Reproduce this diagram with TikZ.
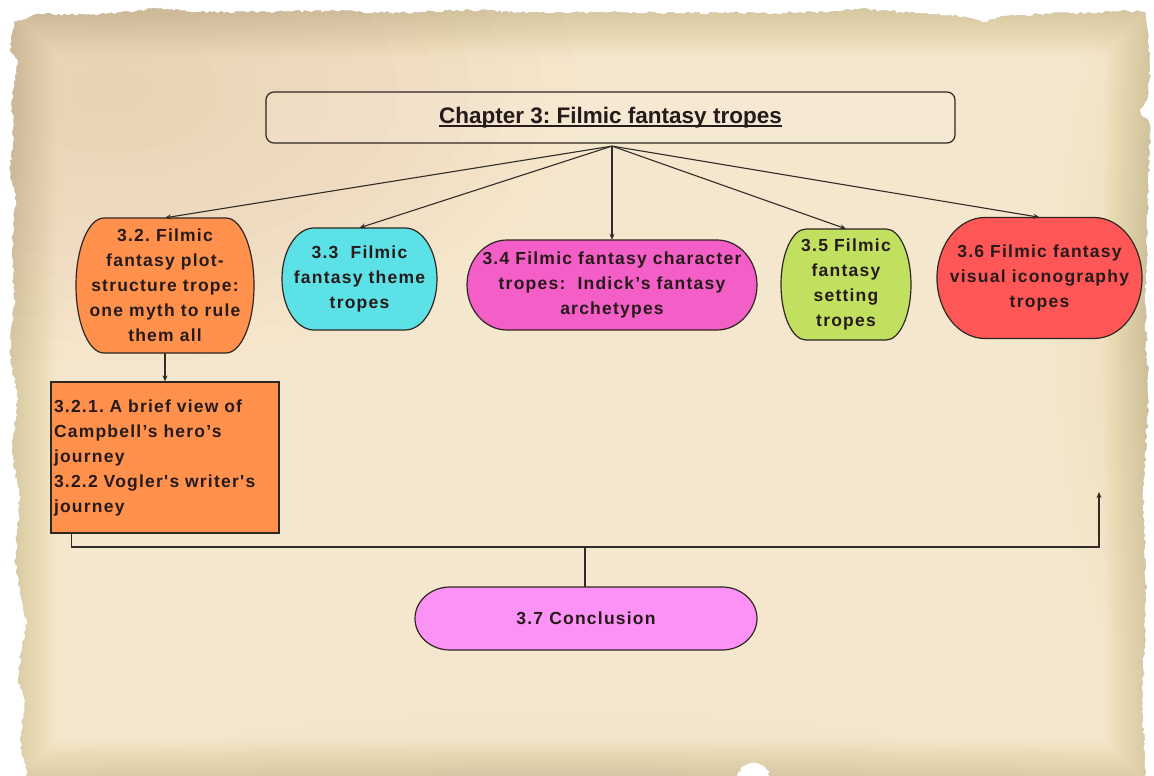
\documentclass[tikz,border=0pt]{standalone}
\usepackage{fontspec}
\setmainfont{Liberation Sans}
\newfontfamily\boxfont{Liberation Sans}[LetterSpace=7,Ligatures=TeXOff]
\usetikzlibrary{arrows.meta,decorations.pathmorphing,calc}
\frenchspacing

\definecolor{paperbase}{HTML}{F5E7CD}
\definecolor{paperedge}{HTML}{C99A5E}
\definecolor{paperstain}{HTML}{D6B27F}
\definecolor{edgecol}{HTML}{2E2620}
\definecolor{linkcol}{HTML}{302C28}
\definecolor{textcol}{HTML}{261B1A}
\definecolor{orangefill}{HTML}{FF914D}
\definecolor{cyanfill}{HTML}{5CE1E6}
\definecolor{pinkfill}{HTML}{F35EC7}
\definecolor{greenfill}{HTML}{C2E060}
\definecolor{redfill}{HTML}{FF5757}
\definecolor{violetfill}{HTML}{FC92F6}

% thick underline for the heading
\newcommand\thickul[1]{\setbox0\hbox{#1}\rlap{\rule[-3.2pt]{\wd0}{1.6pt}}\box0}

% outline of the torn sheet
\def\paperpts{(14,-22) -- (40,-14) -- (90,-15) -- (130,-12) -- (160,-8) -- (200,-12)
    -- (260,-12) -- (330,-11) -- (400,-13) -- (470,-10) -- (540,-13)
    -- (600,-12) -- (680,-13) -- (760,-13) -- (830,-12) -- (860,-9)
    -- (900,-12) -- (950,-15) -- (985,-22) -- (1000,-17) -- (1040,-14)
    -- (1090,-13) -- (1120,-11) -- (1145,-12) -- (1148,-30) -- (1150,-70)
    -- (1147,-100) -- (1140,-112) -- (1150,-125) -- (1148,-200)
    -- (1145,-300) -- (1148,-400) -- (1143,-500) -- (1146,-600)
    -- (1142,-700) -- (1145,-780) -- (772,-780) -- (768,-770) -- (760,-764)
    -- (750,-763) -- (741,-767) -- (736,-780) -- (28,-780) -- (20,-740)
    -- (25,-700) -- (18,-680) -- (22,-650) -- (27,-620) -- (22,-600)
    -- (15,-560) -- (20,-500) -- (12,-450) -- (18,-400) -- (10,-350)
    -- (15,-300) -- (12,-250) -- (16,-200) -- (10,-170) -- (14,-140)
    -- (12,-100) -- (18,-60) -- (10,-50) -- cycle}

% pill-shaped box with half-ellipse ends:
% #1 name, #2 centre x, #3 centre y (downwards), #4 width, #5 height,
% #6 end radius, #7 fill, #8 text
\newcommand\pill[8]{%
  \filldraw[shapeedge, fill=#7]
    ({#2-#4/2+#6},{-#3+#5/2}) -- ({#2+#4/2-#6},{-#3+#5/2})
    arc[start angle=90, end angle=-90, x radius=#6, y radius=#5/2]
    -- ({#2-#4/2+#6},{-#3-#5/2})
    arc[start angle=270, end angle=90, x radius=#6, y radius=#5/2] -- cycle;
  \node[boxtext, minimum width=#4pt, minimum height=#5pt] (#1) at (#2,-#3) {#8};
}

\tikzset{
  link/.style={draw=linkcol, line width=1.1pt},
  arrowlink/.style={link, -{Stealth[length=6pt,width=5pt]}},
  shapeedge/.style={draw=edgecol, line width=1.2pt},
  boxtext/.style={text=textcol, inner sep=0pt, align=center,
    font=\boxfont\bfseries\fontsize{17.5pt}{25pt}\selectfont},
  torn/.style={decoration={random steps,segment length=3pt,amplitude=1.4pt}},
}

\begin{document}
\begin{tikzpicture}[x=1pt,y=1pt]
\useasboundingbox (0,0) rectangle (1154,-776);
\fill[white] (0,0) rectangle (1154,-776);

% torn parchment sheet
\pgfmathsetseed{11}
\fill[paperbase, torn] decorate {\paperpts};
\begin{scope}
  \pgfmathsetseed{11}
  \clip[torn] decorate {\paperpts};
  % stained upper-left area
  \foreach \r in {30,60,...,390}
    \fill[paperstain, opacity=0.022] (110,-90) ellipse[x radius=\r*1.2, y radius=\r*0.7];
  % stain along the right side
  \foreach \r in {20,40,...,200}
    \fill[paperstain, opacity=0.016] (1150,-320) ellipse[x radius=\r*0.5, y radius=\r*1.8];
  % faint stain at the bottom
  \foreach \r in {20,40,...,160}
    \fill[paperstain, opacity=0.012] (560,-800) ellipse[x radius=\r*3.5, y radius=\r*0.6];
  % darker edges, fading inwards
  \foreach \i in {1,...,30}
    \draw[paperedge, line width=3*\i pt, opacity=0.012] (12,-12) rectangle (1148,-784);
\end{scope}

% heading
\node[draw=edgecol, line width=1.2pt, rounded corners=8pt,
      fill=white, fill opacity=0.12, text opacity=1,
      minimum width=689pt, minimum height=51pt, text=textcol,
      font=\bfseries\fontsize{22.5pt}{27pt}\selectfont]
  (title) at (610.5,-117.5) {\thickul{Chapter 3: Filmic fantasy tropes}};

% section boxes
\pill{n32}{165}{285.5}{178}{135}{28}{orangefill}{3.2. Filmic\\fantasy plot-\\structure trope:\\one myth to rule\\them all}
\pill{n33}{359.5}{279}{155}{102}{32}{cyanfill}{3.3~~Filmic\\fantasy theme\\tropes}
\pill{n34}{612}{285}{290}{90}{40}{pinkfill}{3.4 Filmic fantasy character\\tropes:~~Indick’s fantasy\\archetypes}
\pill{n35}{846}{284.5}{130}{111}{25}{greenfill}{3.5 Filmic\\fantasy\\setting\\tropes}
\pill{n36}{1039.5}{278}{205}{121}{48}{redfill}{3.6 Filmic fantasy\\visual iconography\\tropes}
\pill{n37}{586}{618.5}{342}{63}{35}{violetfill}{3.7 Conclusion}

\node[boxtext, shapeedge, fill=orangefill, align=left, text width=222pt,
      minimum width=228pt, minimum height=151pt]
  (n321) at (165,-457.5)
  {3.2.1. A brief view of\\Campbell’s hero’s\\journey\\3.2.2 Vogler's writer's\\journey};

% connectors from the heading
\coordinate (hub) at ([xshift=1.5pt,yshift=-2.5pt]title.south);
\foreach \t in {n32,n33,n34,n35,n36}
  \draw[arrowlink] (hub) -- (\t.north);

\draw[arrowlink] (n32.south) -- (n321.north);

% bottom bus
\coordinate (busR) at (1099,-547);
\coordinate (end36) at (1099,-492);
\coordinate (busM) at (585,-547);
\draw[arrowlink] ([xshift=21pt]n321.south west) |- (busR) -- (end36);
\draw[link] (busM) -- (busM |- n37.north);
\end{tikzpicture}
\end{document}
